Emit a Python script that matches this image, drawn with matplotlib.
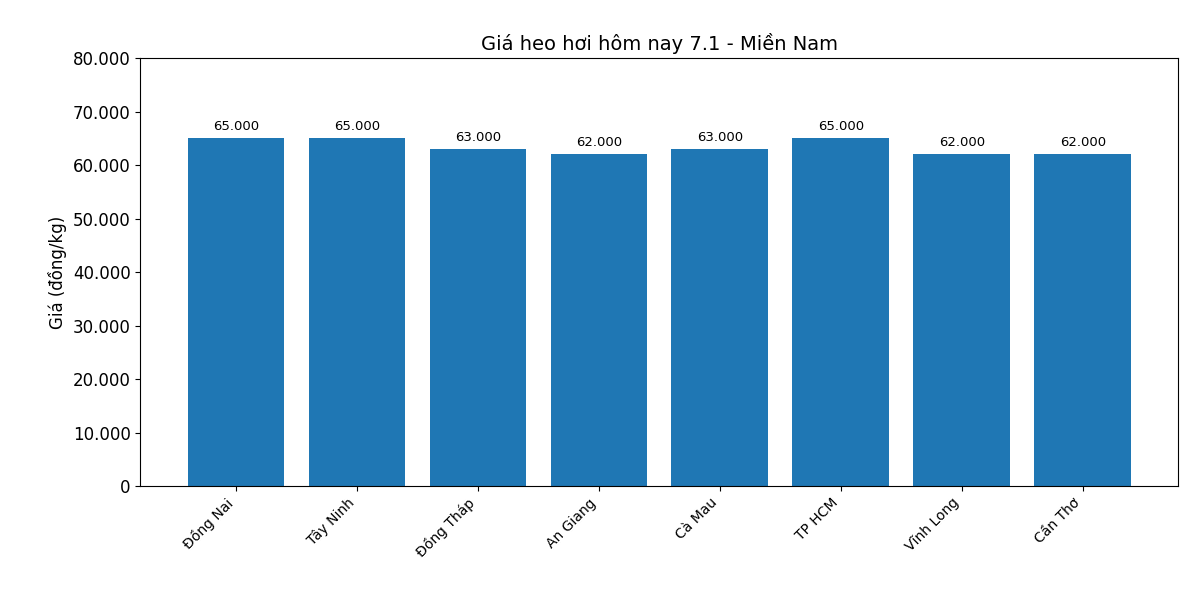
import matplotlib
matplotlib.use("Agg")
import matplotlib.pyplot as plt
from matplotlib.ticker import FuncFormatter

provinces = ["Đồng Nai", "Tây Ninh", "Đồng Tháp", "An Giang", "Cà Mau", "TP HCM", "Vĩnh Long", "Cần Thơ"]
prices = [65000, 65000, 63000, 62000, 63000, 65000, 62000, 62000]

def fmt(v):
    return f"{int(v):,}".replace(",", ".")

fig, ax = plt.subplots(figsize=(12, 6), dpi=100)
bars = ax.bar(provinces, prices, color="#1f77b4", width=0.8)
for b, v in zip(bars, prices):
    ax.annotate(fmt(v), (b.get_x() + b.get_width() / 2, v), xytext=(0, 4),
                textcoords="offset points", ha="center", va="bottom", fontsize=9.5)
ax.set_ylim(0, 80000)
ax.yaxis.set_major_formatter(FuncFormatter(lambda v, p: fmt(v)))
ax.tick_params(axis="y", labelsize=12)
plt.setp(ax.get_xticklabels(), rotation=45, ha="right", fontsize=10)
ax.set_ylabel("Giá (đồng/kg)", fontsize=12)
ax.set_title("Giá heo hơi hôm nay 7.1 - Miền Nam", fontsize=14)
fig.subplots_adjust(left=0.117, right=0.982, top=0.903, bottom=0.19)
fig.savefig("out.png")
